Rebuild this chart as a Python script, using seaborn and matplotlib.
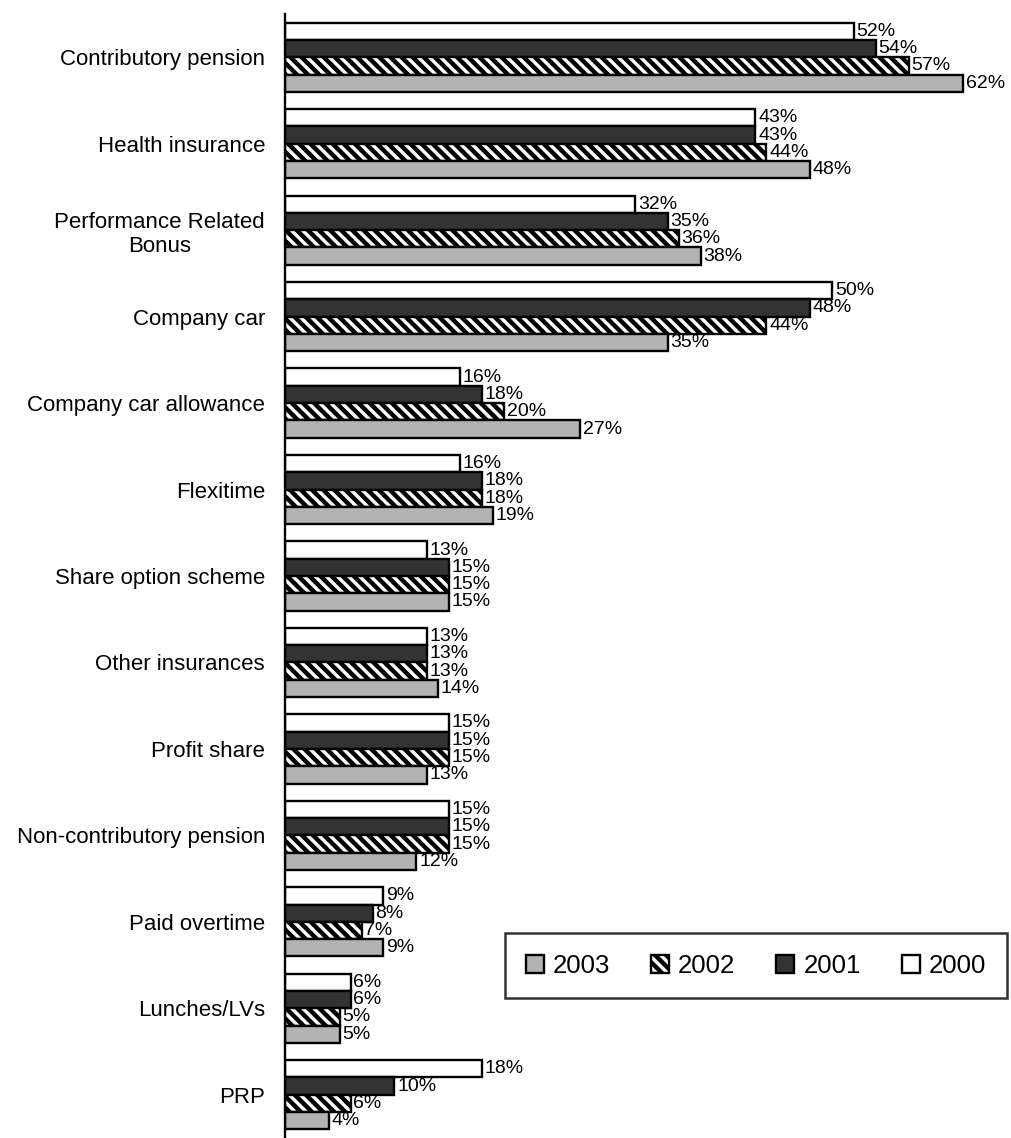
import matplotlib
matplotlib.use("Agg")
import matplotlib.pyplot as plt
import matplotlib.patches as mpatches
import seaborn as sns
import pandas as pd

categories = ["Contributory pension", "Health insurance", "Performance Related\nBonus",
              "Company car", "Company car allowance", "Flexitime", "Share option scheme",
              "Other insurances", "Profit share", "Non-contributory pension",
              "Paid overtime", "Lunches/LVs", "PRP"]
years = ["2000", "2001", "2002", "2003"]
v2000 = [52, 43, 32, 50, 16, 16, 13, 13, 15, 15, 9, 6, 18]
v2001 = [54, 43, 35, 48, 18, 18, 15, 13, 15, 15, 8, 6, 10]
v2002 = [57, 44, 36, 44, 20, 18, 15, 13, 15, 15, 7, 5, 6]
v2003 = [62, 48, 38, 35, 27, 19, 15, 14, 13, 12, 9, 5, 4]

colors = {"2000": "white", "2001": "#333333", "2002": "white", "2003": "#b3b3b3"}
HATCH = "\\\\\\"

# long-form table for seaborn
rows = []
for yr, vals in zip(years, [v2000, v2001, v2002, v2003]):
    for c, v in zip(categories, vals):
        rows.append({"benefit": c, "year": yr, "pct": v})
df = pd.DataFrame(rows)

sns.set_style("white")
plt.rcParams["font.family"] = ["Liberation Sans", "DejaVu Sans"]
plt.rcParams["text.color"] = "black"
plt.rcParams["ytick.color"] = "black"
plt.rcParams["hatch.linewidth"] = 3.2
plt.rcParams["hatch.color"] = "#333333"

fig = plt.figure(figsize=(10.11, 11.38), dpi=100)
ax = fig.add_axes([285 / 1011, 0.0, 1 - 285 / 1011, 1 - 14 / 1138])

sns.barplot(data=df, y="benefit", x="pct", hue="year", hue_order=years,
            order=categories, orient="h", palette=colors, width=0.8, gap=0,
            edgecolor="black", linewidth=1.7, saturation=1, legend=False, ax=ax)

for yr, cont in zip(years, ax.containers):
    if yr == "2002":
        for bar in cont:
            bar.set_hatch(HATCH)
    ax.bar_label(cont, fmt="%d%%", padding=2, fontsize=14, color="black")

ax.set_xlim(0, 726 / 10.94)
ax.set_ylim(len(categories) - 0.5, -0.5)
ax.set_xlabel("")
ax.set_ylabel("")
ax.set_xticks([])
for s in ["top", "right", "bottom"]:
    ax.spines[s].set_visible(False)
ax.spines["left"].set_linewidth(1.7)
ax.spines["left"].set_color("black")

ax.set_yticks(range(len(categories)))
ax.set_yticklabels(categories, fontsize=16, multialignment="center", color="black")
ax.set_yticks([i - 0.5 for i in range(len(categories) + 1)], minor=True)
ax.tick_params(axis="y", which="major", length=0, pad=14.4)
ax.tick_params(axis="y", which="minor", length=8, width=1.7, direction="out", color="black")

handles = [mpatches.Patch(facecolor=colors[y], edgecolor="black", linewidth=1.7,
                          hatch=HATCH if y == "2002" else None, label=y)
           for y in ["2003", "2002", "2001", "2000"]]
leg = fig.legend(handles=handles, ncol=4, loc="upper left",
                 bbox_to_anchor=(505 / 1011, 1 - 933 / 1138), frameon=True,
                 fancybox=False, edgecolor="black", handlelength=0.7, handleheight=0.7,
                 handletextpad=0.35, columnspacing=1.6, borderpad=0.8,
                 borderaxespad=0, prop={"size": 18.5})
leg.get_frame().set_linewidth(1.8)

fig.savefig("out.png", dpi=100)
